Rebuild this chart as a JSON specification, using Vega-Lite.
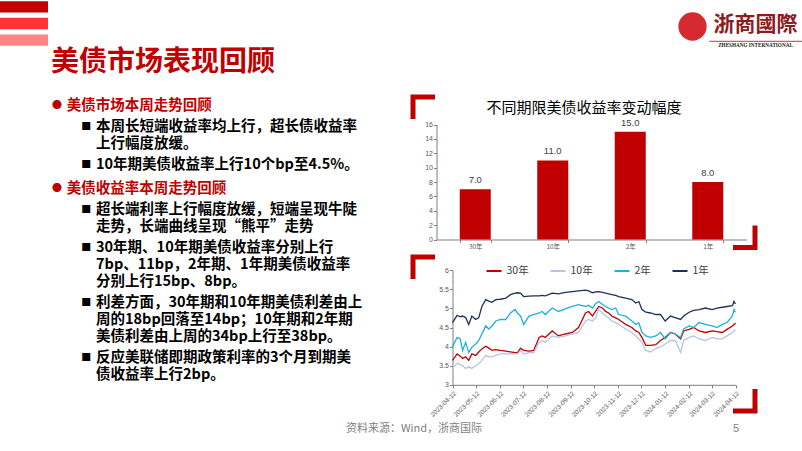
{
  "$schema": "https://vega.github.io/schema/vega-lite/v6.json",
  "padding": 0,
  "background": "white",
  "config": {
    "view": {"stroke": null},
    "font": "Noto Sans CJK SC",
    "concat": {"spacing": 0},
    "axis": {"labelFont": "Liberation Sans", "labelFontSize": 7, "labelColor": "#595959", "domainColor": "#7f7f7f", "tickColor": "#7f7f7f", "tickSize": 3, "grid": false, "labelOverlap": false}
  },
  "resolve": {"scale": {"color": "independent"}, "legend": {"color": "independent"}},
  "datasets": {
    "bullets": [
      {"para": 1, "ln": 1, "role": "hm", "text": "●"},
      {"para": 1, "ln": 1, "role": "ht", "text": "美债市场本周走势回顾"},
      {"para": 2, "ln": 1, "role": "pm", "text": "■"},
      {"para": 2, "ln": 1, "role": "pt", "text": "本周长短端收益率均上行，超长债收益率"},
      {"para": 2, "ln": 2, "role": "pt", "text": "上行幅度放缓。"},
      {"para": 3, "ln": 1, "role": "pm", "text": "■"},
      {"para": 3, "ln": 1, "role": "pt", "text": "10年期美债收益率上行10个bp至4.5%。"},
      {"para": 4, "ln": 1, "role": "hm", "text": "●"},
      {"para": 4, "ln": 1, "role": "ht", "text": "美债收益率本周走势回顾"},
      {"para": 5, "ln": 1, "role": "pm", "text": "■"},
      {"para": 5, "ln": 1, "role": "pt", "text": "超长端利率上行幅度放缓，短端呈现牛陡"},
      {"para": 5, "ln": 2, "role": "pt", "text": "走势，长端曲线呈现“熊平”走势"},
      {"para": 6, "ln": 1, "role": "pm", "text": "■"},
      {"para": 6, "ln": 1, "role": "pt", "text": "30年期、10年期美债收益率分别上行"},
      {"para": 6, "ln": 2, "role": "pt", "text": "7bp、11bp，2年期、1年期美债收益率"},
      {"para": 6, "ln": 3, "role": "pt", "text": "分别上行15bp、8bp。"},
      {"para": 7, "ln": 1, "role": "pm", "text": "■"},
      {"para": 7, "ln": 1, "role": "pt", "text": "利差方面，30年期和10年期美债利差由上"},
      {"para": 7, "ln": 2, "role": "pt", "text": "周的18bp回落至14bp；10年期和2年期"},
      {"para": 7, "ln": 3, "role": "pt", "text": "美债利差由上周的34bp上行至38bp。"},
      {"para": 8, "ln": 1, "role": "pm", "text": "■"},
      {"para": 8, "ln": 1, "role": "pt", "text": "反应美联储即期政策利率的3个月到期美"},
      {"para": 8, "ln": 2, "role": "pt", "text": "债收益率上行2bp。"}
    ],
    "changes": [
      {"term": "30年", "change": 7},
      {"term": "10年", "change": 11},
      {"term": "2年", "change": 15},
      {"term": "1年", "change": 8}
    ],
    "yields": [
      {"date": "2023-04-12", "1年": 4.63, "2年": 4.00, "30年": 3.64, "10年": 3.43},
      {"date": "2023-04-18", "1年": 4.82, "2年": 4.24, "30年": 3.81, "10年": 3.56},
      {"date": "2023-04-22", "1年": 4.78, "2年": 4.20, "30年": 3.75, "10年": 3.52},
      {"date": "2023-04-25", "1年": 4.80, "2年": 3.90, "30年": 3.69, "10年": 3.50},
      {"date": "2023-04-29", "1年": 4.76, "2年": 4.11, "30年": 3.73, "10年": 3.43},
      {"date": "2023-05-03", "1年": 4.58, "2年": 3.85, "30年": 3.64, "10年": 3.47},
      {"date": "2023-05-07", "1年": 4.80, "2年": 3.98, "30年": 3.81, "10年": 3.43},
      {"date": "2023-05-12", "1年": 4.71, "2年": 4.07, "30年": 3.77, "10年": 3.50},
      {"date": "2023-05-16", "1年": 4.76, "2年": 4.16, "30年": 3.86, "10年": 3.56},
      {"date": "2023-05-20", "1年": 5.05, "2年": 4.33, "30年": 3.94, "10年": 3.64},
      {"date": "2023-05-25", "1年": 5.23, "2年": 4.54, "30年": 4.01, "10年": 3.77},
      {"date": "2023-05-29", "1年": 5.19, "2年": 4.46, "30年": 3.96, "10年": 3.73},
      {"date": "2023-06-02", "1年": 5.16, "2年": 4.54, "30年": 3.90, "10年": 3.73},
      {"date": "2023-06-07", "1年": 5.23, "2年": 4.67, "30年": 3.92, "10年": 3.77},
      {"date": "2023-06-13", "1年": 5.24, "2年": 4.71, "30年": 3.90, "10年": 3.81},
      {"date": "2023-06-20", "1年": 5.27, "2年": 4.71, "30年": 3.88, "10年": 3.81},
      {"date": "2023-06-26", "1年": 5.36, "2年": 4.88, "30年": 3.86, "10年": 3.81},
      {"date": "2023-07-02", "1年": 5.40, "2年": 4.97, "30年": 3.84, "10年": 3.81},
      {"date": "2023-07-05", "1年": 5.41, "2年": 4.88, "30年": 3.84, "10年": 3.81},
      {"date": "2023-07-09", "1年": 5.40, "2年": 4.80, "30年": 3.96, "10年": 3.90},
      {"date": "2023-07-13", "1年": 5.31, "2年": 4.58, "30年": 3.90, "10年": 3.81},
      {"date": "2023-07-20", "1年": 5.32, "2年": 4.80, "30年": 3.88, "10年": 3.84},
      {"date": "2023-07-26", "1年": 5.33, "2年": 4.84, "30年": 3.90, "10年": 3.84},
      {"date": "2023-08-02", "1年": 5.33, "2年": 4.88, "30年": 4.24, "10年": 4.11},
      {"date": "2023-08-06", "1年": 5.34, "2年": 4.92, "30年": 4.28, "10年": 4.16},
      {"date": "2023-08-10", "1年": 5.33, "2年": 4.84, "30年": 4.24, "10年": 4.11},
      {"date": "2023-08-19", "1年": 5.40, "2年": 5.01, "30年": 4.41, "10年": 4.28},
      {"date": "2023-08-27", "1年": 5.38, "2年": 4.92, "30年": 4.28, "10年": 4.24},
      {"date": "2023-09-05", "1年": 5.42, "2年": 4.99, "30年": 4.33, "10年": 4.28},
      {"date": "2023-09-14", "1年": 5.44, "2年": 5.05, "30年": 4.37, "10年": 4.33},
      {"date": "2023-09-22", "1年": 5.46, "2年": 5.10, "30年": 4.50, "10年": 4.37},
      {"date": "2023-10-01", "1年": 5.48, "2年": 5.05, "30年": 4.88, "10年": 4.67},
      {"date": "2023-10-05", "1年": 5.46, "2年": 5.08, "30年": 4.92, "10年": 4.71},
      {"date": "2023-10-10", "1年": 5.41, "2年": 5.01, "30年": 4.80, "10年": 4.67},
      {"date": "2023-10-14", "1年": 5.43, "2年": 5.12, "30年": 4.92, "10年": 4.75},
      {"date": "2023-10-18", "1年": 5.44, "2年": 5.18, "30年": 5.05, "10年": 4.97},
      {"date": "2023-10-23", "1年": 5.42, "2年": 5.10, "30年": 5.01, "10年": 4.88},
      {"date": "2023-10-27", "1年": 5.40, "2年": 5.05, "30年": 4.92, "10年": 4.80},
      {"date": "2023-10-31", "1年": 5.38, "2年": 5.01, "30年": 4.88, "10年": 4.75},
      {"date": "2023-11-04", "1年": 5.36, "2年": 4.97, "30年": 4.80, "10年": 4.67},
      {"date": "2023-11-09", "1年": 5.34, "2年": 5.01, "30年": 4.75, "10年": 4.63},
      {"date": "2023-11-13", "1年": 5.31, "2年": 4.84, "30年": 4.71, "10年": 4.58},
      {"date": "2023-11-22", "1年": 5.27, "2年": 4.80, "30年": 4.58, "10年": 4.46},
      {"date": "2023-11-30", "1年": 5.23, "2年": 4.67, "30年": 4.50, "10年": 4.37},
      {"date": "2023-12-05", "1年": 5.14, "2年": 4.58, "30年": 4.41, "10年": 4.28},
      {"date": "2023-12-09", "1年": 5.18, "2年": 4.62, "30年": 4.37, "10年": 4.20},
      {"date": "2023-12-13", "1年": 4.97, "2年": 4.37, "30年": 4.24, "10年": 4.11},
      {"date": "2023-12-18", "1年": 4.90, "2年": 4.28, "30年": 4.03, "10年": 3.90},
      {"date": "2023-12-24", "1年": 4.88, "2年": 4.24, "30年": 4.03, "10年": 3.86},
      {"date": "2023-12-31", "1年": 4.84, "2年": 4.28, "30年": 4.05, "10年": 3.95},
      {"date": "2024-01-06", "1年": 4.84, "2年": 4.37, "30年": 4.16, "10年": 3.99},
      {"date": "2024-01-12", "1年": 4.67, "2年": 4.20, "30年": 4.24, "10年": 4.07},
      {"date": "2024-01-19", "1年": 4.80, "2年": 4.37, "30年": 4.37, "10年": 4.16},
      {"date": "2024-01-25", "1年": 4.76, "2年": 4.33, "30年": 4.33, "10年": 4.16},
      {"date": "2024-02-01", "1年": 4.71, "2年": 4.24, "30年": 4.20, "10年": 3.85},
      {"date": "2024-02-05", "1年": 4.80, "2年": 4.46, "30年": 4.41, "10年": 4.16},
      {"date": "2024-02-12", "1年": 4.90, "2年": 4.54, "30年": 4.45, "10年": 4.24},
      {"date": "2024-02-18", "1年": 4.95, "2年": 4.50, "30年": 4.50, "10年": 4.28},
      {"date": "2024-02-25", "1年": 4.97, "2年": 4.63, "30年": 4.41, "10年": 4.20},
      {"date": "2024-03-04", "1年": 5.01, "2年": 4.58, "30年": 4.37, "10年": 4.16},
      {"date": "2024-03-13", "1年": 4.97, "2年": 4.54, "30年": 4.41, "10年": 4.24},
      {"date": "2024-03-19", "1年": 5.01, "2年": 4.50, "30年": 4.39, "10年": 4.20},
      {"date": "2024-03-26", "1年": 5.03, "2年": 4.58, "30年": 4.37, "10年": 4.20},
      {"date": "2024-04-01", "1年": 5.05, "2年": 4.63, "30年": 4.45, "10年": 4.28},
      {"date": "2024-04-08", "1年": 5.07, "2年": 4.80, "30年": 4.54, "10年": 4.37},
      {"date": "2024-04-10", "1年": 5.18, "2年": 4.97, "30年": 4.58, "10年": 4.41},
      {"date": "2024-04-12", "1年": 5.12, "2年": 4.90, "30年": 4.62, "10年": 4.45}
    ]
  },
  "spacing": 0,
  "vconcat": [
    {
      "spacing": 0,
      "hconcat": [
        {
          "data": {"values": [{"stripe": "s1"}, {"stripe": "s2"}, {"stripe": "s3"}]},
          "width": 48, "height": 47,
          "mark": "bar",
          "encoding": {
            "y": {"field": "stripe", "type": "nominal", "axis": null, "scale": {"paddingInner": 0.31, "paddingOuter": 0.07}},
            "color": {"field": "stripe", "type": "nominal", "legend": null, "scale": {"domain": ["s1", "s2", "s3"], "range": ["#C00000", "#FF3333", "#FF8585"]}}
          }
        },
        {"data": {"values": []}, "mark": "point", "encoding": {}, "width": 629, "height": 1},
        {
          "spacing": 0,
          "vconcat": [
            {"data": {"values": []}, "mark": "point", "encoding": {}, "width": 31, "height": 10},
            {"data": {"values": [{"k": "logo"}]}, "width": 31, "height": 33, "mark": {"type": "point", "filled": true, "size": 800, "color": "#D42A30", "opacity": 1}, "encoding": {}}
          ]
        },
        {
          "spacing": 1,
          "vconcat": [
            {"data": {"values": []}, "mark": "point", "encoding": {}, "width": 93, "height": 10},
            {"data": {"values": [{"t": "浙商國際"}]}, "width": 93, "height": 28, "mark": {"type": "text", "fontSize": 21, "fontWeight": "bold", "color": "#8E1B22", "font": "Noto Sans CJK TC"}, "encoding": {"text": {"field": "t"}}},
            {"data": {"values": [{"t": "ZHESHANG INTERNATIONAL"}]}, "width": 93, "height": 7, "view": {"stroke": "#C00000", "strokeWidth": 0.8, "strokeDash": [93, 1000]}, "mark": {"type": "text", "fontSize": 5.2, "fontWeight": "bold", "color": "#222222", "font": "Liberation Serif"}, "encoding": {"text": {"field": "t"}}}
          ]
        }
      ]
    },
    {
      "spacing": 0,
      "resolve": {"scale": {"color": "independent"}, "legend": {"color": "independent"}},
      "hconcat": [
        {"data": {"values": []}, "mark": "point", "encoding": {}, "width": 51, "height": 1},
        {
          "title": {"text": "美债市场表现回顾", "anchor": "start", "fontSize": 28, "fontWeight": "bold", "color": "#C00000", "font": "Noto Sans CJK SC", "offset": 20},
          "spacing": 7,
          "vconcat": [
            {
              "spacing": 4,
              "vconcat": [
                {"data": {"name": "bullets"}, "transform": [{"filter": "datum.para == 1"}], "width": 330, "height": 17,
                  "encoding": {"x": {"field": "role", "type": "nominal", "axis": null, "scale": {"domain": ["hm", "ht", "pm", "pt"], "range": [1, 45], "padding": 0}}, "y": {"field": "ln", "type": "ordinal", "axis": null}, "text": {"field": "text"}, "color": {"field": "role", "type": "nominal", "legend": null, "scale": {"domain": ["hm", "ht", "pm", "pt"], "range": ["#C00000", "#C00000", "#000000", "#000000"]}}},
                  "layer": [
                    {"transform": [{"filter": "datum.role == 'hm' || datum.role == 'pm'"}], "mark": {"type": "text", "align": "left", "baseline": "middle", "fontSize": 10}},
                    {"transform": [{"filter": "datum.role == 'ht' || datum.role == 'pt'"}], "mark": {"type": "text", "align": "left", "baseline": "middle", "fontSize": 14.5, "fontWeight": "bold"}}
                  ]},
                {"data": {"name": "bullets"}, "transform": [{"filter": "datum.para == 2"}], "width": 330, "height": 34,
                  "encoding": {"x": {"field": "role", "type": "nominal", "axis": null, "scale": {"domain": ["hm", "ht", "pm", "pt"], "range": [1, 45], "padding": 0}}, "y": {"field": "ln", "type": "ordinal", "axis": null}, "text": {"field": "text"}, "color": {"field": "role", "type": "nominal", "legend": null, "scale": {"domain": ["hm", "ht", "pm", "pt"], "range": ["#C00000", "#C00000", "#000000", "#000000"]}}},
                  "layer": [
                    {"transform": [{"filter": "datum.role == 'hm' || datum.role == 'pm'"}], "mark": {"type": "text", "align": "left", "baseline": "middle", "fontSize": 10}},
                    {"transform": [{"filter": "datum.role == 'ht' || datum.role == 'pt'"}], "mark": {"type": "text", "align": "left", "baseline": "middle", "fontSize": 14.5, "fontWeight": "bold"}}
                  ]},
                {"data": {"name": "bullets"}, "transform": [{"filter": "datum.para == 3"}], "width": 330, "height": 17,
                  "encoding": {"x": {"field": "role", "type": "nominal", "axis": null, "scale": {"domain": ["hm", "ht", "pm", "pt"], "range": [1, 45], "padding": 0}}, "y": {"field": "ln", "type": "ordinal", "axis": null}, "text": {"field": "text"}, "color": {"field": "role", "type": "nominal", "legend": null, "scale": {"domain": ["hm", "ht", "pm", "pt"], "range": ["#C00000", "#C00000", "#000000", "#000000"]}}},
                  "layer": [
                    {"transform": [{"filter": "datum.role == 'hm' || datum.role == 'pm'"}], "mark": {"type": "text", "align": "left", "baseline": "middle", "fontSize": 10}},
                    {"transform": [{"filter": "datum.role == 'ht' || datum.role == 'pt'"}], "mark": {"type": "text", "align": "left", "baseline": "middle", "fontSize": 14.5, "fontWeight": "bold"}}
                  ]}
              ]
            },
            {
              "spacing": 4,
              "vconcat": [
                {"data": {"name": "bullets"}, "transform": [{"filter": "datum.para == 4"}], "width": 330, "height": 17,
                  "encoding": {"x": {"field": "role", "type": "nominal", "axis": null, "scale": {"domain": ["hm", "ht", "pm", "pt"], "range": [1, 45], "padding": 0}}, "y": {"field": "ln", "type": "ordinal", "axis": null}, "text": {"field": "text"}, "color": {"field": "role", "type": "nominal", "legend": null, "scale": {"domain": ["hm", "ht", "pm", "pt"], "range": ["#C00000", "#C00000", "#000000", "#000000"]}}},
                  "layer": [
                    {"transform": [{"filter": "datum.role == 'hm' || datum.role == 'pm'"}], "mark": {"type": "text", "align": "left", "baseline": "middle", "fontSize": 10}},
                    {"transform": [{"filter": "datum.role == 'ht' || datum.role == 'pt'"}], "mark": {"type": "text", "align": "left", "baseline": "middle", "fontSize": 14.5, "fontWeight": "bold"}}
                  ]},
                {"data": {"name": "bullets"}, "transform": [{"filter": "datum.para == 5"}], "width": 330, "height": 34,
                  "encoding": {"x": {"field": "role", "type": "nominal", "axis": null, "scale": {"domain": ["hm", "ht", "pm", "pt"], "range": [1, 45], "padding": 0}}, "y": {"field": "ln", "type": "ordinal", "axis": null}, "text": {"field": "text"}, "color": {"field": "role", "type": "nominal", "legend": null, "scale": {"domain": ["hm", "ht", "pm", "pt"], "range": ["#C00000", "#C00000", "#000000", "#000000"]}}},
                  "layer": [
                    {"transform": [{"filter": "datum.role == 'hm' || datum.role == 'pm'"}], "mark": {"type": "text", "align": "left", "baseline": "middle", "fontSize": 10}},
                    {"transform": [{"filter": "datum.role == 'ht' || datum.role == 'pt'"}], "mark": {"type": "text", "align": "left", "baseline": "middle", "fontSize": 14.5, "fontWeight": "bold"}}
                  ]},
                {"data": {"name": "bullets"}, "transform": [{"filter": "datum.para == 6"}], "width": 330, "height": 51,
                  "encoding": {"x": {"field": "role", "type": "nominal", "axis": null, "scale": {"domain": ["hm", "ht", "pm", "pt"], "range": [1, 45], "padding": 0}}, "y": {"field": "ln", "type": "ordinal", "axis": null}, "text": {"field": "text"}, "color": {"field": "role", "type": "nominal", "legend": null, "scale": {"domain": ["hm", "ht", "pm", "pt"], "range": ["#C00000", "#C00000", "#000000", "#000000"]}}},
                  "layer": [
                    {"transform": [{"filter": "datum.role == 'hm' || datum.role == 'pm'"}], "mark": {"type": "text", "align": "left", "baseline": "middle", "fontSize": 10}},
                    {"transform": [{"filter": "datum.role == 'ht' || datum.role == 'pt'"}], "mark": {"type": "text", "align": "left", "baseline": "middle", "fontSize": 14.5, "fontWeight": "bold"}}
                  ]},
                {"data": {"name": "bullets"}, "transform": [{"filter": "datum.para == 7"}], "width": 330, "height": 51,
                  "encoding": {"x": {"field": "role", "type": "nominal", "axis": null, "scale": {"domain": ["hm", "ht", "pm", "pt"], "range": [1, 45], "padding": 0}}, "y": {"field": "ln", "type": "ordinal", "axis": null}, "text": {"field": "text"}, "color": {"field": "role", "type": "nominal", "legend": null, "scale": {"domain": ["hm", "ht", "pm", "pt"], "range": ["#C00000", "#C00000", "#000000", "#000000"]}}},
                  "layer": [
                    {"transform": [{"filter": "datum.role == 'hm' || datum.role == 'pm'"}], "mark": {"type": "text", "align": "left", "baseline": "middle", "fontSize": 10}},
                    {"transform": [{"filter": "datum.role == 'ht' || datum.role == 'pt'"}], "mark": {"type": "text", "align": "left", "baseline": "middle", "fontSize": 14.5, "fontWeight": "bold"}}
                  ]},
                {"data": {"name": "bullets"}, "transform": [{"filter": "datum.para == 8"}], "width": 330, "height": 34,
                  "encoding": {"x": {"field": "role", "type": "nominal", "axis": null, "scale": {"domain": ["hm", "ht", "pm", "pt"], "range": [1, 45], "padding": 0}}, "y": {"field": "ln", "type": "ordinal", "axis": null}, "text": {"field": "text"}, "color": {"field": "role", "type": "nominal", "legend": null, "scale": {"domain": ["hm", "ht", "pm", "pt"], "range": ["#C00000", "#C00000", "#000000", "#000000"]}}},
                  "layer": [
                    {"transform": [{"filter": "datum.role == 'hm' || datum.role == 'pm'"}], "mark": {"type": "text", "align": "left", "baseline": "middle", "fontSize": 10}},
                    {"transform": [{"filter": "datum.role == 'ht' || datum.role == 'pt'"}], "mark": {"type": "text", "align": "left", "baseline": "middle", "fontSize": 14.5, "fontWeight": "bold"}}
                  ]}
              ]
            }
          ]
        },
        {"data": {"values": []}, "mark": "point", "encoding": {}, "width": 29, "height": 1},
        {
          "spacing": 1,
          "resolve": {"scale": {"color": "independent"}, "legend": {"color": "independent"}},
          "vconcat": [
            {
              "data": {"name": "changes"},
              "width": 342, "height": 150.5,
              "view": {"stroke": "#C00000", "strokeWidth": 5, "strokeDash": [22, 448.5, 44, 448.5, 22, 1000]},
              "title": {"text": "不同期限美债收益率变动幅度", "fontSize": 15, "fontWeight": "normal", "color": "#000000", "offset": -19, "font": "Noto Sans CJK SC"},
              "encoding": {
                "x": {"field": "term", "type": "nominal", "sort": null, "title": null, "scale": {"range": [23.5, 333.5], "paddingInner": 0.6, "paddingOuter": 0.3}, "axis": {"labelAngle": 0, "labelFont": "Noto Sans CJK SC", "labelFontSize": 6.5, "tickBand": "extent", "labelPadding": 1, "offset": -8}},
                "y": {"field": "change", "type": "quantitative", "title": null, "scale": {"domain": [0, 16], "range": [142.5, 27.5], "nice": false}, "axis": {"values": [0, 2, 4, 6, 8, 10, 12, 14, 16], "tickCount": 12, "labelOverlap": false, "labelPadding": 1, "offset": -23.5}}
              },
              "layer": [
                {"mark": {"type": "bar", "color": "#C00000"}},
                {
                  "mark": {"type": "text", "baseline": "middle", "dy": -9, "fontSize": 9.5, "color": "#404040", "font": "Liberation Sans"},
                  "encoding": {"text": {"field": "change", "type": "quantitative", "format": ".1f"}}
                }
              ]
            },
            {
              "data": {"name": "yields"},
              "transform": [{"fold": ["30年", "10年", "2年", "1年"], "as": ["series", "yield"]}],
              "width": 342, "height": 154,
              "view": {"stroke": "#C00000", "strokeWidth": 5, "strokeDash": [22, 452, 44, 452, 22, 1000]},
              "mark": {"type": "line", "strokeWidth": 1.3},
              "encoding": {
                "x": {"field": "date", "type": "temporal", "title": null,
                  "scale": {"type": "utc", "range": [39.5, 322.5], "domain": [{"year": 2023, "month": 4, "date": 12, "utc": true}, {"year": 2024, "month": 4, "date": 12, "utc": true}]},
                  "axis": {"format": "%Y-%m-%d", "labelAngle": -45, "labelFontSize": 6.5, "labelPadding": 2, "labelOverlap": false, "tickCount": 20, "offset": -26.2,
                    "values": [
                      {"year": 2023, "month": 4, "date": 12, "utc": true}, {"year": 2023, "month": 5, "date": 12, "utc": true}, {"year": 2023, "month": 6, "date": 12, "utc": true},
                      {"year": 2023, "month": 7, "date": 12, "utc": true}, {"year": 2023, "month": 8, "date": 12, "utc": true}, {"year": 2023, "month": 9, "date": 12, "utc": true},
                      {"year": 2023, "month": 10, "date": 12, "utc": true}, {"year": 2023, "month": 11, "date": 12, "utc": true}, {"year": 2023, "month": 12, "date": 12, "utc": true},
                      {"year": 2024, "month": 1, "date": 12, "utc": true}, {"year": 2024, "month": 2, "date": 12, "utc": true}, {"year": 2024, "month": 3, "date": 12, "utc": true},
                      {"year": 2024, "month": 4, "date": 12, "utc": true}
                    ]}},
                "y": {"field": "yield", "type": "quantitative", "title": null, "scale": {"domain": [3, 6], "range": [127.8, 13.2]}, "axis": {"values": [3, 3.5, 4, 4.5, 5, 5.5, 6], "tickCount": 10, "format": "~g", "labelOverlap": false, "labelPadding": 1, "offset": -39.5}},
                "color": {"field": "series", "type": "nominal", "sort": ["30年", "10年", "2年", "1年"],
                  "scale": {"domain": ["30年", "10年", "2年", "1年"], "range": ["#C00000", "#B4C4E4", "#1CB0DE", "#1F2F5F"]},
                  "legend": {"title": null, "orient": "none", "legendX": 72.5, "legendY": 5.5, "direction": "horizontal", "symbolType": "stroke", "symbolStrokeWidth": 2, "symbolSize": 225, "labelFontSize": 10.5, "labelColor": "#404040", "labelFont": "Noto Sans CJK SC", "columnPadding": 17}}
              }
            }
          ]
        }
      ]
    },
    {
      "spacing": 0,
      "hconcat": [
        {"data": {"values": []}, "mark": "point", "encoding": {}, "width": 338, "height": 1},
        {"data": {"values": [{"t": "资料来源：Wind，浙商国际"}]}, "width": 152, "height": 16, "mark": {"type": "text", "fontSize": 11, "color": "#7F7F7F"}, "encoding": {"text": {"field": "t"}}},
        {"data": {"values": []}, "mark": "point", "encoding": {}, "width": 242, "height": 1},
        {"data": {"values": [{"t": "5"}]}, "width": 8, "height": 16, "mark": {"type": "text", "fontSize": 11, "color": "#7F7F7F", "font": "Liberation Sans"}, "encoding": {"text": {"field": "t"}}}
      ]
    }
  ]
}
